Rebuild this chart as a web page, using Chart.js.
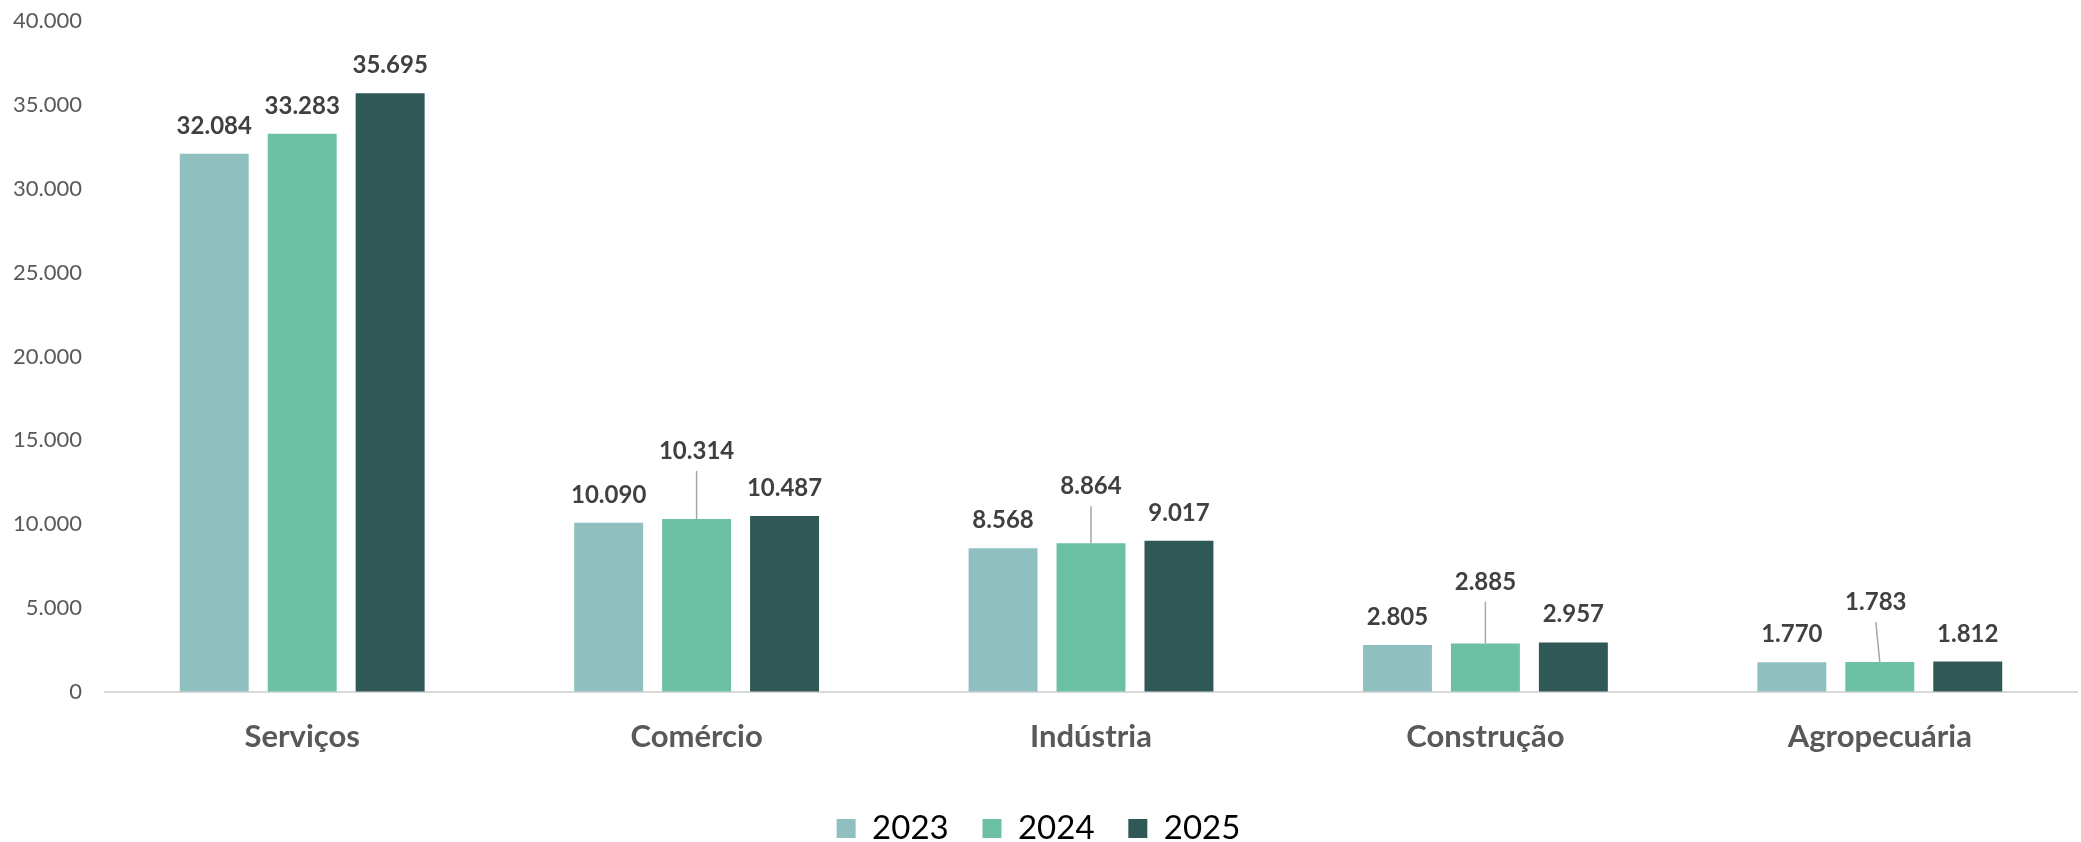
<!DOCTYPE html>
<html>
<head>
<meta charset="utf-8">
<script src="https://cdn.jsdelivr.net/npm/chart.js@4"></script>
<style>
  html, body { margin: 0; padding: 0; background: #fff; }
  #wrap { width: 2081px; height: 842px; }
</style>
</head>
<body>
<div id="wrap"><canvas id="chart" width="2081" height="842"></canvas></div>
<script>
const categories = ["Serviços", "Comércio", "Indústria", "Construção", "Agropecuária"];
const years = ["2023", "2024", "2025"];
const values2023 = [32084, 10090, 8568, 2805, 1770];
const values2024 = [33283, 10314, 8864, 2885, 1783];
const values2025 = [35695, 10487, 9017, 2957, 1812];
const yTicks = [0, 5000, 10000, 15000, 20000, 25000, 30000, 35000, 40000];

const colors = ["#8FC0BF", "#6CC1A5", "#2F5856"];

// labels lifted above the bar with a leader line (2024 only), px
const leaderLift = [null, [0, 60, 49, 54, 52], null];
const leaderShift = [null, [0, 0, 0, 0, -4], null];

const fmt = v => v.toLocaleString("pt-BR");

const valueLabels = {
  id: "valueLabels",
  afterDatasetsDraw(chart) {
    const ctx = chart.ctx;
    ctx.save();
    ctx.font = "bold 24px Lato";
    ctx.fillStyle = "#404040";
    ctx.textAlign = "center";
    ctx.textBaseline = "alphabetic";
    chart.data.datasets.forEach((ds, di) => {
      chart.getDatasetMeta(di).data.forEach((bar, i) => {
        const lift = leaderLift[di] && leaderLift[di][i] ? leaderLift[di][i] : 0;
        const shift = leaderShift[di] ? leaderShift[di][i] : 0;
        if (lift) {
          ctx.strokeStyle = "#A6A6A6";
          ctx.lineWidth = 1.5;
          ctx.beginPath();
          ctx.moveTo(bar.x + shift, bar.y - lift + 12);
          ctx.lineTo(bar.x, bar.y);
          ctx.stroke();
          ctx.fillText(fmt(ds.data[i]), bar.x + shift, bar.y - lift);
        } else {
          ctx.fillText(fmt(ds.data[i]), bar.x, bar.y - 20);
        }
      });
    });
    ctx.restore();
  }
};

new Chart(document.getElementById("chart"), {
  type: "bar",
  data: {
    labels: categories,
    datasets: [values2023, values2024, values2025].map((d, i) => ({
      label: years[i],
      data: d,
      backgroundColor: colors[i],
      borderWidth: 0,
      categoryPercentage: 0.669,
      barPercentage: 0.784
    }))
  },
  options: {
    responsive: false,
    animation: false,
    layout: { autoPadding: false, padding: { top: 21, right: 4, left: 0, bottom: -13 } },
    plugins: {
      tooltip: { enabled: false },
      legend: {
        position: "bottom",
        labels: {
          boxWidth: 19,
          boxHeight: 19,
          padding: 0,
          color: "#595959",
          font: { family: "Lato", size: 33 },
          generateLabels(chart) {
            const n = chart.data.datasets.length;
            return chart.data.datasets.map((ds, i) => ({
              text: i < n - 1 ? ds.label + "    " : ds.label,
              fillStyle: ds.backgroundColor,
              strokeStyle: ds.backgroundColor,
              lineWidth: 0,
              datasetIndex: i
            }));
          }
        }
      }
    },
    scales: {
      x: {
        grid: { display: false },
        border: { color: "#D9D9D9", width: 2 },
        ticks: {
          color: "#595959",
          font: { family: "Lato", size: 31, weight: "bold" },
          padding: 18
        },
        afterFit(s) { s.height = 120; }
      },
      y: {
        min: 0,
        max: 40000,
        afterBuildTicks(s) { s.ticks = yTicks.map(v => ({ value: v })); },
        grid: {
          display: true,
          drawOnChartArea: false,
          drawTicks: true,
          tickLength: 23,
          color: "rgba(0,0,0,0)"
        },
        border: { display: false },
        ticks: {
          color: "#595959",
          font: { family: "Lato", size: 22 },
          padding: 0,
          callback: v => fmt(v)
        },
        afterFit(s) { s.width = 105; }
      }
    }
  },
  plugins: [valueLabels]
});
</script>
</body>
</html>
